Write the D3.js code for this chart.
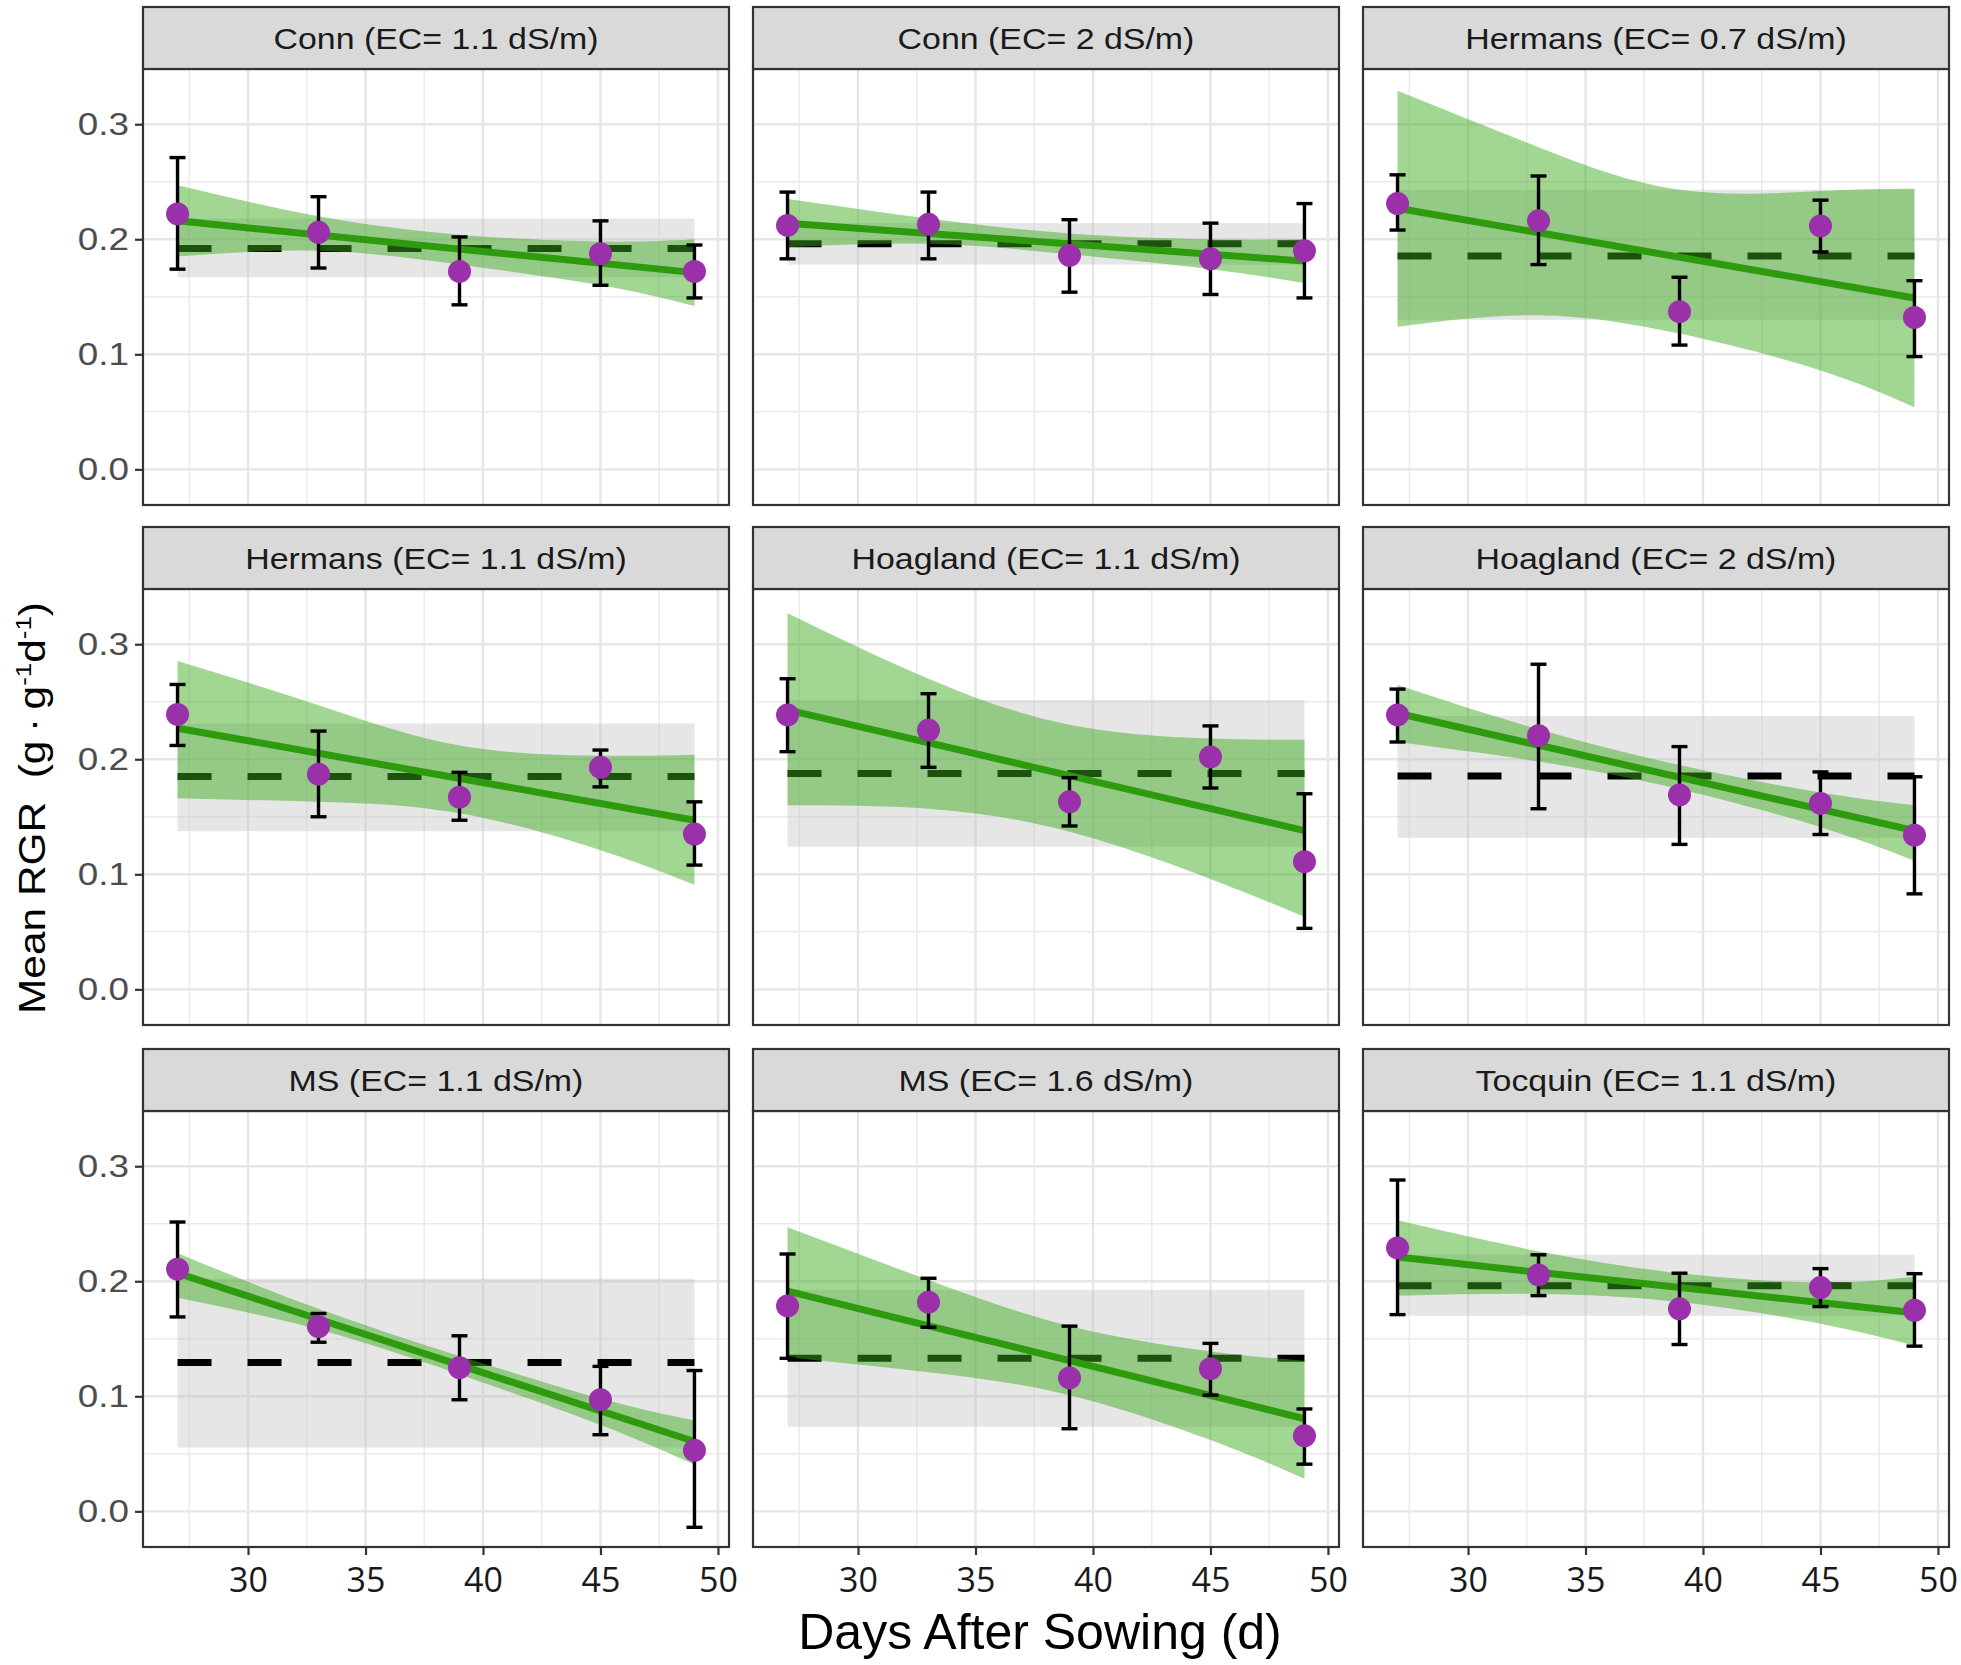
<!DOCTYPE html>
<html><head><meta charset="utf-8">
<script src="https://cdn.jsdelivr.net/npm/d3@7/dist/d3.min.js"></script>
<style>body{margin:0;background:#fff}</style>
</head><body>
<svg id="chart" width="1961" height="1665"></svg>
<script>
// ---------- data ----------
const panelTitles = [
  "Conn (EC= 1.1 dS/m)", "Conn (EC= 2 dS/m)", "Hermans (EC= 0.7 dS/m)",
  "Hermans (EC= 1.1 dS/m)", "Hoagland (EC= 1.1 dS/m)", "Hoagland (EC= 2 dS/m)",
  "MS (EC= 1.1 dS/m)", "MS (EC= 1.6 dS/m)", "Tocquin (EC= 1.1 dS/m)"
];
const days = [27, 33, 39, 45, 49];
const xTickValues = [30, 35, 40, 45, 50];
const yTickValues = [0.0, 0.1, 0.2, 0.3];

const meanRGR = [
  [0.222, 0.206, 0.172, 0.1875, 0.172],
  [0.212, 0.213, 0.186, 0.183, 0.190],
  [0.231, 0.216, 0.137, 0.2116, 0.132],
  [0.239, 0.187, 0.167, 0.193, 0.135],
  [0.2385, 0.2254, 0.163, 0.202, 0.111],
  [0.2385, 0.2205, 0.169, 0.1616, 0.134],
  [0.2105, 0.1606, 0.1249, 0.0971, 0.053],
  [0.1786, 0.1818, 0.116, 0.124, 0.0656],
  [0.229, 0.2055, 0.176, 0.1945, 0.1747]
];
const errLower = [
  [0.174, 0.175, 0.143, 0.160, 0.149],
  [0.183, 0.183, 0.154, 0.152, 0.149],
  [0.208, 0.178, 0.108, 0.189, 0.098],
  [0.212, 0.150, 0.147, 0.176, 0.108],
  [0.2066, 0.193, 0.142, 0.175, 0.053],
  [0.215, 0.157, 0.126, 0.1346, 0.083],
  [0.169, 0.147, 0.097, 0.0666, -0.0139],
  [0.133, 0.160, 0.0718, 0.101, 0.041],
  [0.171, 0.1875, 0.145, 0.178, 0.1436]
];
const errUpper = [
  [0.271, 0.237, 0.202, 0.216, 0.195],
  [0.241, 0.241, 0.217, 0.214, 0.231],
  [0.256, 0.255, 0.167, 0.234, 0.164],
  [0.265, 0.2245, 0.1886, 0.208, 0.163],
  [0.270, 0.257, 0.184, 0.229, 0.170],
  [0.261, 0.2826, 0.211, 0.189, 0.1848],
  [0.2515, 0.172, 0.1526, 0.126, 0.1224],
  [0.2237, 0.2026, 0.161, 0.146, 0.089],
  [0.288, 0.223, 0.207, 0.211, 0.2066]
];
// regression line, value at first and last day
const fitFirst = [0.216, 0.214, 0.227, 0.227, 0.243, 0.240, 0.207, 0.1915, 0.221];
const fitLast  = [0.171, 0.181, 0.149, 0.147, 0.138, 0.138, 0.0607, 0.0805, 0.1727];
// regression confidence band at each day
const ciLower = [
  [0.185, 0.190, 0.178, 0.160, 0.142],
  [0.193, 0.196, 0.187, 0.174, 0.162],
  [0.124, 0.134, 0.118, 0.086, 0.054],
  [0.166, 0.163, 0.153, 0.121, 0.091],
  [0.160, 0.157, 0.137, 0.096, 0.063],
  [0.215, 0.198, 0.174, 0.141, 0.112],
  [0.1856, 0.158, 0.119, 0.075, 0.0406],
  [0.134, 0.121, 0.101, 0.062, 0.0284],
  [0.1875, 0.189, 0.182, 0.163, 0.144]
];
const ciUpper = [
  [0.247, 0.220, 0.204, 0.198, 0.200],
  [0.235, 0.218, 0.205, 0.200, 0.200],
  [0.329, 0.280, 0.243, 0.242, 0.244],
  [0.2855, 0.247, 0.212, 0.203, 0.204],
  [0.327, 0.270, 0.230, 0.218, 0.217],
  [0.2646, 0.226, 0.195, 0.171, 0.160],
  [0.2244, 0.176, 0.135, 0.098, 0.079],
  [0.247, 0.201, 0.161, 0.139, 0.131],
  [0.253, 0.226, 0.207, 0.199, 0.204]
];
// overall mean (dashed) and its band (grey)
const overallMean  = [0.192, 0.196, 0.1855, 0.185, 0.1877, 0.1854, 0.1294, 0.133, 0.196];
const overallLower = [0.167, 0.178, 0.130, 0.1375, 0.124, 0.1317, 0.0555, 0.0735, 0.170];
const overallUpper = [0.218, 0.214, 0.243, 0.231, 0.2515, 0.2376, 0.2022, 0.1925, 0.2232];

// ---------- layout ----------
const svg = d3.select("#chart");
const colX = [143, 753, 1363];
const rowY = [69, 589, 1111];
const panelW = 586, panelH = 436, stripH = 62;
const x = d3.scaleLinear().domain([25.53, 50.47]).range([0, panelW]);
const y = d3.scaleLinear().domain([-0.031, 0.348]).range([panelH, 0]);
const capHalf = 0.34;

function stretchText(sel, factor) {
  sel.each(function () {
    const w = this.getComputedTextLength();
    d3.select(this).attr("textLength", w * factor).attr("lengthAdjust", "spacingAndGlyphs");
  });
}

svg.append("rect").attr("width", 1961).attr("height", 1665).attr("fill", "#fff");

panelTitles.forEach((title, i) => {
  const col = i % 3, row = Math.floor(i / 3);
  const g = svg.append("g").attr("transform", `translate(${colX[col]},${rowY[row]})`);

  // grid
  const minorX = d3.range(27.5, 50, 5), minorY = [0.05, 0.15, 0.25];
  g.selectAll(".mx").data(minorX).join("line")
    .attr("x1", d => x(d)).attr("x2", d => x(d)).attr("y1", 0).attr("y2", panelH)
    .attr("stroke", "#ebebeb").attr("stroke-width", 1.5);
  g.selectAll(".my").data(minorY).join("line")
    .attr("y1", d => y(d)).attr("y2", d => y(d)).attr("x1", 0).attr("x2", panelW)
    .attr("stroke", "#ebebeb").attr("stroke-width", 1.5);
  g.selectAll(".gx").data(xTickValues).join("line")
    .attr("x1", d => x(d)).attr("x2", d => x(d)).attr("y1", 0).attr("y2", panelH)
    .attr("stroke", "#e6e6e6").attr("stroke-width", 2.4);
  g.selectAll(".gy").data(yTickValues).join("line")
    .attr("y1", d => y(d)).attr("y2", d => y(d)).attr("x1", 0).attr("x2", panelW)
    .attr("stroke", "#e6e6e6").attr("stroke-width", 2.4);

  // grey band of overall mean
  g.append("rect")
    .attr("x", x(days[0])).attr("width", x(days[days.length - 1]) - x(days[0]))
    .attr("y", y(overallUpper[i])).attr("height", y(overallLower[i]) - y(overallUpper[i]))
    .attr("fill", "#c4c4c4").attr("fill-opacity", 0.42);

  // dashed overall mean
  g.append("line")
    .attr("x1", x(days[0])).attr("x2", x(days[days.length - 1]))
    .attr("y1", y(overallMean[i])).attr("y2", y(overallMean[i]))
    .attr("stroke", "#000").attr("stroke-width", 7).attr("stroke-dasharray", "34,36");

  // regression confidence ribbon
  const bandData = days.map((d, k) => ({ d, lo: ciLower[i][k], hi: ciUpper[i][k] }));
  g.append("path").datum(bandData)
    .attr("d", d3.area().x(p => x(p.d)).y0(p => y(p.lo)).y1(p => y(p.hi)).curve(d3.curveNatural))
    .attr("fill", "rgb(60,170,30)").attr("fill-opacity", 0.48);

  // regression line
  g.append("line")
    .attr("x1", x(days[0])).attr("x2", x(days[days.length - 1]))
    .attr("y1", y(fitFirst[i])).attr("y2", y(fitLast[i]))
    .attr("stroke", "#2e9a0e").attr("stroke-width", 7);

  // error bars
  const pts = days.map((d, k) => ({ d, m: meanRGR[i][k], lo: errLower[i][k], hi: errUpper[i][k] }));
  const eb = g.selectAll(".eb").data(pts).join("g");
  eb.append("line").attr("x1", p => x(p.d)).attr("x2", p => x(p.d))
    .attr("y1", p => y(p.lo)).attr("y2", p => y(p.hi)).attr("stroke", "#000").attr("stroke-width", 3.4);
  eb.append("line").attr("x1", p => x(p.d - capHalf)).attr("x2", p => x(p.d + capHalf))
    .attr("y1", p => y(p.lo)).attr("y2", p => y(p.lo)).attr("stroke", "#000").attr("stroke-width", 3.4);
  eb.append("line").attr("x1", p => x(p.d - capHalf)).attr("x2", p => x(p.d + capHalf))
    .attr("y1", p => y(p.hi)).attr("y2", p => y(p.hi)).attr("stroke", "#000").attr("stroke-width", 3.4);

  // points
  g.selectAll(".pt").data(pts).join("circle")
    .attr("cx", p => x(p.d)).attr("cy", p => y(p.m)).attr("r", 11.5)
    .attr("fill", "#9b30ab");

  // border
  g.append("rect").attr("width", panelW).attr("height", panelH)
    .attr("fill", "none").attr("stroke", "#333").attr("stroke-width", 2.2);

  // strip
  g.append("rect").attr("y", -stripH).attr("width", panelW).attr("height", stripH)
    .attr("fill", "#d9d9d9").attr("stroke", "#333").attr("stroke-width", 2.2);
  const st = g.append("text").attr("x", panelW / 2).attr("y", -stripH / 2 + 11)
    .attr("text-anchor", "middle").attr("font-family", "Liberation Sans, Arial, sans-serif")
    .attr("font-size", 30).attr("fill", "#1a1a1a").text(title);
  stretchText(st, 1.13);

  // y axis (left column)
  if (col === 0) {
    const ya = g.append("g").call(d3.axisLeft(y).tickValues(yTickValues).tickFormat(d3.format(".1f")).tickSize(8).tickPadding(6));
    ya.select(".domain").remove();
    ya.selectAll(".tick line").attr("stroke", "#333").attr("stroke-width", 2.2);
    ya.selectAll(".tick text").attr("font-family", "Liberation Sans, Arial, sans-serif")
      .attr("font-size", 32).attr("fill", "#4d4d4d");
    stretchText(ya.selectAll(".tick text"), 1.15);
  }
  // x axis (bottom row)
  if (row === 2) {
    const xa = g.append("g").attr("transform", `translate(0,${panelH})`)
      .call(d3.axisBottom(x).tickValues(xTickValues).tickSize(8).tickPadding(13));
    xa.select(".domain").remove();
    xa.selectAll(".tick line").attr("stroke", "#333").attr("stroke-width", 2.2);
    xa.selectAll(".tick text").attr("font-family", "Open Sans, sans-serif")
      .attr("font-size", 34).attr("fill", "#1a1a1a");
  }
});

// axis titles
svg.append("text").attr("x", 1040).attr("y", 1649).attr("text-anchor", "middle")
  .attr("font-family", "Liberation Sans, Arial, sans-serif").attr("font-size", 50)
  .attr("fill", "#000").text("Days After Sowing (d)");

const yt = svg.append("text").attr("transform", "translate(45,808) rotate(-90)")
  .attr("text-anchor", "middle").attr("font-family", "Liberation Sans, Arial, sans-serif")
  .attr("font-size", 36).attr("fill", "#000");
yt.append("tspan").text("Mean RGR\u00a0\u00a0(g\u2009\u00b7\u2009g");
yt.append("tspan").attr("font-size", 22).attr("dy", -14).text("-1");
yt.append("tspan").attr("dy", 14).text("d");
yt.append("tspan").attr("font-size", 22).attr("dy", -14).text("-1");
yt.append("tspan").attr("dy", 14).text(")");
yt.attr("textLength", 412).attr("lengthAdjust", "spacingAndGlyphs");
</script>
</body></html>
